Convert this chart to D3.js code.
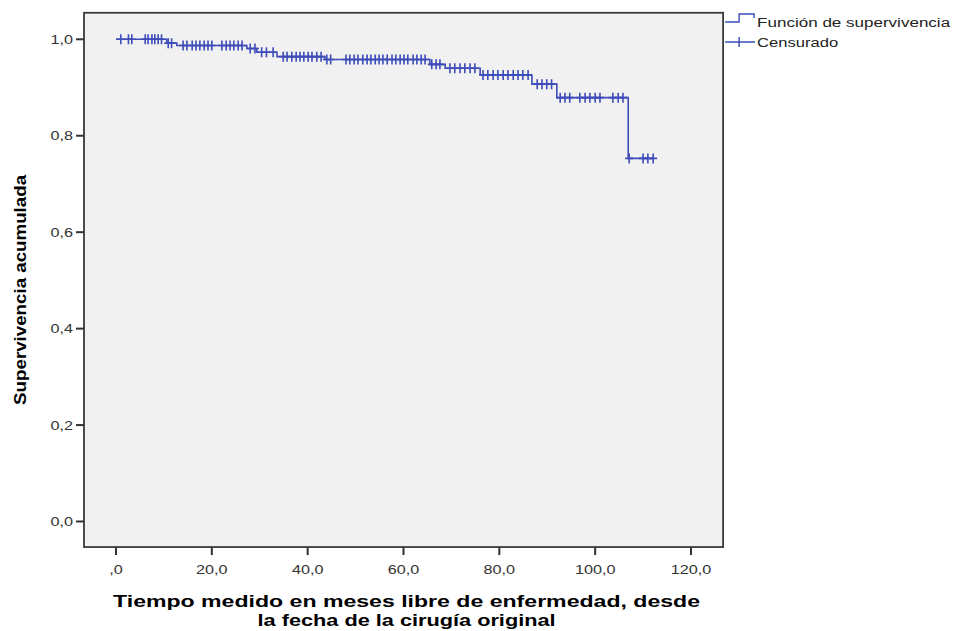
<!DOCTYPE html>
<html>
<head>
<meta charset="utf-8">
<script src="https://cdn.jsdelivr.net/npm/d3@7"></script>
<style>
  body { margin: 0; background: #fff; }
  text { font-family: "Liberation Sans", Arial, sans-serif; }
</style>
</head>
<body>
<div id="chart"></div>
<script>
// Kaplan-Meier: tiempos de evento y supervivencia tras cada evento
var eventTimes = [10.6, 12.7, 27.3, 29.4, 33.6, 43.6, 65.5, 68.7, 76.0, 86.8, 92.0, 106.9]
var survival   = [0.992, 0.987, 0.981, 0.973, 0.964, 0.958, 0.948, 0.940, 0.926, 0.907, 0.879, 0.753]

// casos censurados (meses)
var censored = [
  1.0, 2.6, 3.3, 6.1, 6.7, 7.5, 8.1, 8.8, 9.5,
  10.9, 11.6, 14.0, 14.8, 15.9, 16.7, 17.5, 18.4, 19.2, 20.0,
  22.1, 23.0, 23.8, 24.6, 25.5, 26.3, 28.0, 29.0,
  30.4, 31.4, 32.8, 34.9, 35.7, 36.7, 37.6, 38.4, 39.2, 40.1, 40.9, 41.9, 42.8,
  44.0, 44.8, 48.0, 48.8, 49.7, 50.5, 51.5, 52.4, 53.2, 54.1, 54.9, 55.7, 56.6,
  57.6, 58.4, 59.3, 60.1, 60.9, 62.0, 62.8, 63.7, 64.5,
  65.9, 66.8, 67.6, 69.7, 70.7, 71.8, 72.8, 73.9, 74.9,
  76.6, 77.6, 78.7, 79.7, 80.8, 81.8, 82.9, 83.9, 84.9, 86.0,
  87.9, 88.9, 89.9, 90.9, 92.7, 93.7, 94.7,
  96.8, 97.9, 98.9, 100.0, 101.0, 103.7, 104.8, 105.8,
  107.1, 110.0, 111.0, 112.1
]

var xTicks = [0, 20, 40, 60, 80, 100, 120]
var xTickLabels = [',0', '20,0', '40,0', '60,0', '80,0', '100,0', '120,0']
var yTicks = [0, 0.2, 0.4, 0.6, 0.8, 1.0]
var yTickLabels = ['0,0', '0,2', '0,4', '0,6', '0,8', '1,0']

var legendLabels = ['Función de supervivencia', 'Censurado']
var xTitle = ['Tiempo medido en meses libre de enfermedad, desde', 'la fecha de la cirugía original']
var yTitle = 'Supervivencia acumulada'

var blue = '#3d4cb8'
var hs = 1.35 // the picture is stretched sideways

var svg = d3.select('#chart').append('svg').attr('width', 956).attr('height', 631)

var x = d3.scaleLinear().domain([0, 120]).range([116, 691])
var y = d3.scaleLinear().domain([0, 1]).range([521.5, 39.3])

// plot frame reaches a bit past the domain
var fx0 = x(-6.68), fx1 = x(126.7), fy0 = y(1.055), fy1 = y(-0.053)

svg.append('rect')
  .attr('x', fx0).attr('y', fy0)
  .attr('width', fx1 - fx0).attr('height', fy1 - fy0)
  .attr('fill', '#f0f1f0')
  .attr('stroke', '#3a3a3a').attr('stroke-width', 1.8)

// ticks
svg.selectAll('.xt').data(xTicks).enter().append('line')
  .attr('x1', d => x(d)).attr('x2', d => x(d))
  .attr('y1', fy1).attr('y2', fy1 + 8)
  .attr('stroke', '#333').attr('stroke-width', 2)

svg.selectAll('.xl').data(xTicks).enter().append('text')
  .attr('transform', d => 'translate(' + x(d) + ',574) scale(' + hs + ',1)')
  .attr('text-anchor', 'middle').attr('font-size', 12).attr('fill', '#333')
  .text((d, i) => xTickLabels[i])

svg.selectAll('.yt').data(yTicks).enter().append('line')
  .attr('x1', fx0 - 8).attr('x2', fx0)
  .attr('y1', d => y(d)).attr('y2', d => y(d))
  .attr('stroke', '#333').attr('stroke-width', 2)

svg.selectAll('.yl').data(yTicks).enter().append('text')
  .attr('transform', d => 'translate(' + (fx0 - 11) + ',' + (y(d) + 4.5) + ') scale(' + hs + ',1)')
  .attr('text-anchor', 'end').attr('font-size', 12).attr('fill', '#333')
  .text((d, i) => yTickLabels[i])

// axis titles
svg.selectAll('.xtitle').data(xTitle).enter().append('text')
  .attr('x', (fx0 + fx1) / 2 + 3).attr('y', (d, i) => 607 + i * 19)
  .attr('text-anchor', 'middle').attr('font-size', 17).attr('font-weight', 'bold')
  .attr('textLength', (d, i) => i == 0 ? 587 : 298)
  .attr('lengthAdjust', 'spacingAndGlyphs')
  .text(d => d)

svg.append('text')
  .attr('transform', 'translate(26,' + ((fy0 + fy1) / 2 + 10) + ') rotate(-90)')
  .attr('text-anchor', 'middle').attr('font-size', 17).attr('font-weight', 'bold')
  .attr('textLength', 230).attr('lengthAdjust', 'spacingAndGlyphs')
  .text(yTitle)

// survival curve
var pts = [[0, 1]].concat(eventTimes.map((t, i) => [t, survival[i]]))
function survAt(t){
  var i = d3.bisectRight(eventTimes, t)
  return i == 0 ? 1 : survival[i - 1]
}
pts.push([d3.max(censored), survAt(d3.max(censored))])

var line = d3.line().x(d => x(d[0])).y(d => y(d[1])).curve(d3.curveStepAfter)

svg.append('path')
  .attr('d', line(pts))
  .attr('fill', 'none').attr('stroke', blue).attr('stroke-width', 1.6)

svg.selectAll('.cens').data(censored).enter().append('path')
  .attr('d', function(t){
    var cx = x(t), cy = y(survAt(t))
    return 'M' + (cx - 4) + ',' + cy + 'H' + (cx + 4) + 'M' + cx + ',' + (cy - 5) + 'V' + (cy + 5)
  })
  .attr('fill', 'none').attr('stroke', blue).attr('stroke-width', 1.6)

// legend
var lg = svg.append('g').attr('transform', 'translate(' + (fx1 + 2) + ',0)')
lg.append('path')
  .attr('d', 'M0,22H14V14H29V18')
  .attr('fill', 'none').attr('stroke', blue).attr('stroke-width', 1.4)
lg.append('path')
  .attr('d', 'M0,42H30M14,37V47')
  .attr('fill', 'none').attr('stroke', blue).attr('stroke-width', 1.4)
lg.selectAll('.lt').data(legendLabels).enter().append('text')
  .attr('x', 32).attr('y', (d, i) => 27 + i * 20)
  .attr('font-size', 12.5).attr('fill', '#222')
  .attr('textLength', (d, i) => i == 0 ? 193 : 81)
  .attr('lengthAdjust', 'spacingAndGlyphs')
  .text(d => d)
</script>
</body>
</html>
